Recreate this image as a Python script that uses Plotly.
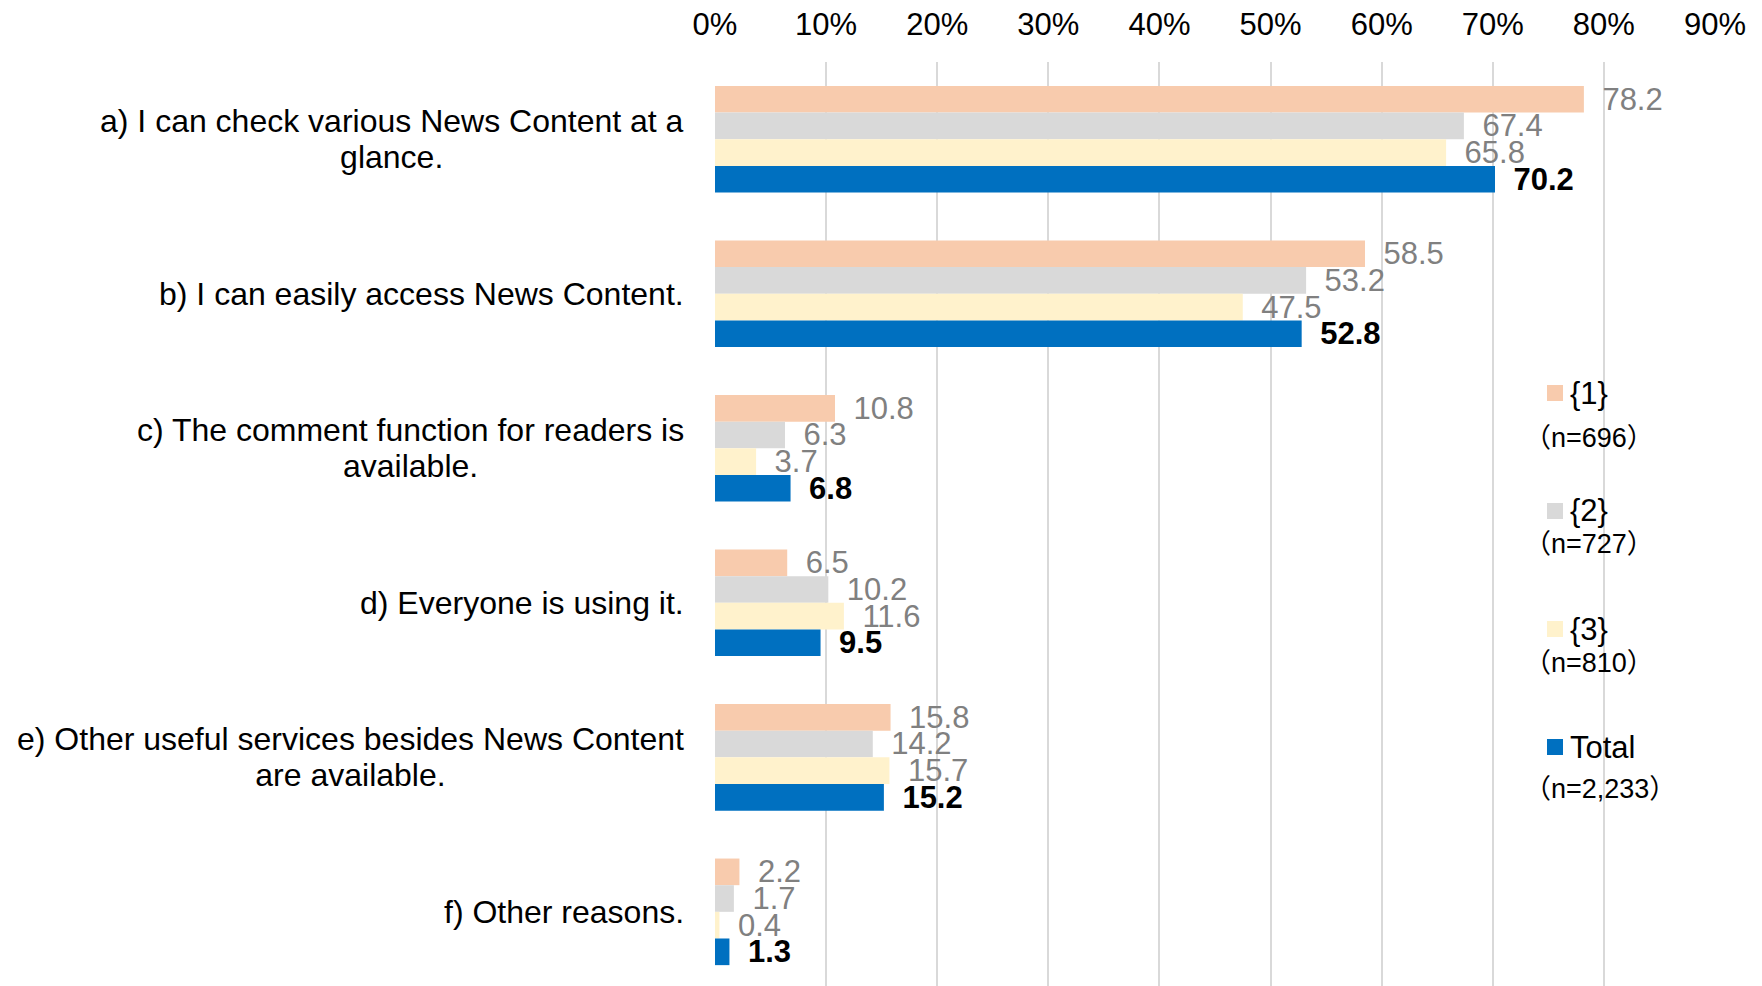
import plotly.graph_objects as go

# Survey reasons (row keys, display labels) and shares in percent
keys = ["a", "b", "c", "d", "e", "f"]
labels = [
    "a) I can check various News Content at a<br>glance.",
    "b) I can easily access News Content.",
    "c) The comment function for readers is<br>available.",
    "d) Everyone is using it.",
    "e) Other useful services besides News Content<br>are available.",
    "f) Other reasons.",
]
series_names = ["{1}", "{2}", "{3}", "Total"]
series_n = ["（n=696）", "（n=727）", "（n=810）", "（n=2,233）"]
vals_1 = [78.2, 58.5, 10.8, 6.5, 15.8, 2.2]
vals_2 = [67.4, 53.2, 6.3, 10.2, 14.2, 1.7]
vals_3 = [65.8, 47.5, 3.7, 11.6, 15.7, 0.4]
vals_total = [70.2, 52.8, 6.8, 9.5, 15.2, 1.3]
x_ticks = [0, 10, 20, 30, 40, 50, 60, 70, 80, 90]

colors = ["#F8CBAD", "#D9D9D9", "#FFF2CC", "#0070C0"]
FONT = "Liberation Sans, Arial, sans-serif"

W, H = 1762, 986
ML, MR, MT, MB = 715, 47, 62, 0
PW, PH = W - ML - MR, H - MT - MB


def px_x(x):
    return (x - ML) / PW


def px_y(y):
    return 1 - (y - MT) / PH


fig = go.Figure()
all_vals = [vals_1, vals_2, vals_3, vals_total]
for i, (name, vals) in enumerate(zip(series_names, all_vals)):
    is_total = name == "Total"
    if is_total:
        txt = ["\u2002<b>%s</b>" % v for v in vals]
        tcol = "#000000"
    else:
        txt = ["\u2002%s" % v for v in vals]
        tcol = "#808080"
    fig.add_trace(go.Bar(
        y=keys, x=vals, name=name, orientation="h",
        marker=dict(color=colors[i], line=dict(width=0)),
        text=txt, textposition="outside", constraintext="none",
        cliponaxis=False,
        textfont=dict(family=FONT, size=31, color=tcol),
        showlegend=False,
    ))

# Category labels: block right-aligned, lines centred; the base font size
# sets a tighter line pitch while each line is drawn at 32px
LABEL_PX = 32
annotations = []
for k, lab in zip(keys, labels):
    lines = lab.split("<br>")
    txt = "<br>".join('<span style="font-size:%dpx">%s</span>' % (LABEL_PX, ln) for ln in lines)
    annotations.append(dict(
        x=px_x(686), xref="paper", xanchor="right",
        y=k, yref="y", yanchor="middle",
        text=txt, align="center", showarrow=False,
        font=dict(family=FONT, size=27.7, color="#000000"),
    ))

# Legend block on the right
sq_cy = [393, 511, 629, 747]
n_cy = [438, 544, 663, 789]
shapes = []
for i in range(4):
    shapes.append(dict(
        type="rect", xref="paper", yref="paper",
        x0=px_x(1547), x1=px_x(1563),
        y0=px_y(sq_cy[i] + 8), y1=px_y(sq_cy[i] - 8),
        fillcolor=colors[i], line=dict(width=0), layer="above",
    ))
    annotations.append(dict(
        x=px_x(1568), xref="paper", xanchor="left",
        y=px_y(sq_cy[i]), yref="paper", yanchor="middle",
        text=series_names[i], showarrow=False,
        font=dict(family=FONT, size=31, color="#000000"),
    ))
    annotations.append(dict(
        x=px_x(1522), xref="paper", xanchor="left",
        y=px_y(n_cy[i]), yref="paper", yanchor="middle",
        text=series_n[i], showarrow=False,
        font=dict(family="Liberation Sans, Noto Sans CJK JP, sans-serif", size=27, color="#000000"),
    ))

fig.update_layout(
    width=W, height=H,
    margin=dict(l=ML, r=MR, t=MT, b=MB, pad=0),
    paper_bgcolor="white", plot_bgcolor="white",
    barmode="group", bargap=0.31, bargroupgap=0,
    annotations=annotations, shapes=shapes,
    xaxis=dict(
        side="top", range=[0, 90], tickvals=x_ticks,
        ticktext=["%d%%" % t for t in x_ticks],
        showgrid=True, gridcolor="#D9D9D9", gridwidth=2,
        zeroline=False, showline=False, ticks="",
        ticklabelstandoff=20,
        tickfont=dict(family=FONT, size=31, color="#000000"),
    ),
    yaxis=dict(
        categoryorder="array", categoryarray=keys,
        range=[5.48, -0.5], autorange=False, showticklabels=False,
        showgrid=False, zeroline=False, showline=False, ticks="",
    ),
)

fig.write_html("out.html")
